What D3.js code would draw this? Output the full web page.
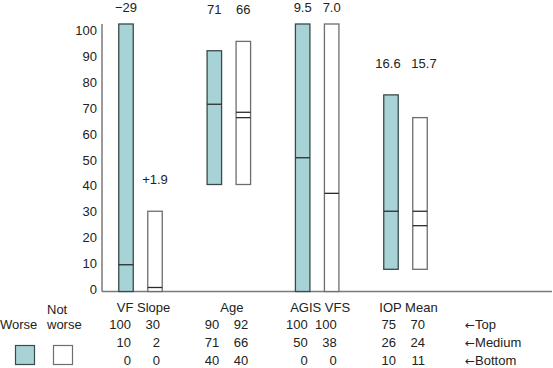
<!DOCTYPE html>
<html>
<head>
<meta charset="utf-8">
<script src="https://d3js.org/d3.v7.min.js"></script>
<style>
  body { margin: 0; background: #fff; }
  svg { display: block; font-family: 'Liberation Sans', Arial, sans-serif; }
</style>
</head>
<body>
<svg id="chart"></svg>
<script>
var width = 553;
var height = 368;

// categories
var groups = ['VF Slope', 'Age', 'AGIS VFS', 'IOP Mean'];
var statuses = ['Worse', 'Not worse'];
var yTicks = [0, 10, 20, 30, 40, 50, 60, 70, 80, 90, 100];

// values printed above the bars
var worseLabels = ['\u221229', '71', '9.5', '16.6'];
var notWorseLabels = ['+1.9', '66', '7.0', '15.7'];

// bars as drawn
var worseTop = [100, 90, 100, 73.5];
var worseMid = [10, 70, 50, 30];
var worseBottom = [0, 40, 0, 8.3];
var notWorseTop = [30, 93.5, 100, 65];
var notWorseMid = [1.5, 65, 36.7, 24.6];
var notWorseExtra = [null, 67, null, 30];
var notWorseBottom = [0, 40, 0, 8.3];

// table under the chart
var worseTableTop = [100, 90, 100, 75];
var worseTableMedium = [10, 71, 50, 26];
var worseTableBottom = [0, 40, 0, 10];
var notWorseTableTop = [30, 92, 100, 70];
var notWorseTableMedium = [2, 66, 38, 24];
var notWorseTableBottom = [0, 40, 0, 11];
var rowNames = ['Top', 'Medium', 'Bottom'];

var teal = '#a8d3d6';

var bars = [];
groups.forEach(function(g, i) {
  bars.push({ group: g, status: 'Worse', top: worseTop[i], mid: worseMid[i], extra: null,
    bottom: worseBottom[i], label: worseLabels[i],
    table: [worseTableTop[i], worseTableMedium[i], worseTableBottom[i]],
    pairTop: Math.max(worseTop[i], notWorseTop[i]), other: notWorseTop[i] });
  bars.push({ group: g, status: 'Not worse', top: notWorseTop[i], mid: notWorseMid[i], extra: notWorseExtra[i],
    bottom: notWorseBottom[i], label: notWorseLabels[i],
    table: [notWorseTableTop[i], notWorseTableMedium[i], notWorseTableBottom[i]],
    pairTop: Math.max(worseTop[i], notWorseTop[i]), other: worseTop[i] });
});

var svg = d3.select('#chart')
  .attr('width', width)
  .attr('height', height);

var xGroup = d3.scalePoint()
  .domain(groups)
  .range([140.5, 405.5]);

var xInner = d3.scalePoint()
  .domain(statuses)
  .range([-14.5, 14.5]);

var yScale = d3.scaleLinear()
  .domain([0, 100])
  .range([291.5, 24]);

// tick labels sit on a slightly shorter scale in the original
var yLabelScale = d3.scaleLinear()
  .domain([0, 100])
  .range([293.5, 34.5]);

var barWidth = 14.5;
var cx = d => xGroup(d.group) + xInner(d.status);

// y axis labels
svg.append('g')
  .attr('transform', 'translate(102,0)')
  .call(d3.axisLeft(yLabelScale).tickValues(yTicks).tickSize(0).tickPadding(5))
  .call(g => g.select('.domain').remove())
  .selectAll('text')
  .attr('dy', 0)
  .style('font-size', '13px')
  .style('font-family', "'Liberation Sans', Arial, sans-serif")
  .attr('fill', '#222');

// axis lines
svg.append('line')
  .attr('x1', 102).attr('x2', 102)
  .attr('y1', yScale(100)).attr('y2', yScale(0))
  .attr('stroke', '#7a7a7a')
  .attr('stroke-width', 1.5);

svg.append('line')
  .attr('x1', 102).attr('x2', 552)
  .attr('y1', yScale(0)).attr('y2', yScale(0))
  .attr('stroke', '#7a7a7a')
  .attr('stroke-width', 1.5);

// bars
var bar = svg.selectAll('g.bar')
  .data(bars)
  .enter()
  .append('g')
  .classed('bar', true);

bar.append('rect')
  .attr('x', d => cx(d) - barWidth / 2)
  .attr('y', d => yScale(d.top))
  .attr('width', barWidth)
  .attr('height', d => yScale(d.bottom) - yScale(d.top))
  .attr('fill', d => d.status === 'Worse' ? teal : '#fff')
  .attr('stroke', d => d.status === 'Worse' ? '#3a4a4c' : '#6e6e6e')
  .attr('stroke-width', 1.3);

bar.append('line')
  .attr('x1', d => cx(d) - barWidth / 2)
  .attr('x2', d => cx(d) + barWidth / 2)
  .attr('y1', d => yScale(d.mid))
  .attr('y2', d => yScale(d.mid))
  .attr('stroke', '#2c2c2c')
  .attr('stroke-width', 1.3);

bar.filter(d => d.extra !== null)
  .append('line')
  .attr('x1', d => cx(d) - barWidth / 2)
  .attr('x2', d => cx(d) + barWidth / 2)
  .attr('y1', d => yScale(d.extra))
  .attr('y2', d => yScale(d.extra))
  .attr('stroke', '#2c2c2c')
  .attr('stroke-width', 1.3);

// value labels above bars: shared row when the pair is similar in height
bar.append('text')
  .attr('x', d => cx(d) + (d.group === 'IOP Mean' ? (d.status === 'Worse' ? -3 : 4) : 0))
  .attr('y', d => {
    var t = Math.abs(d.top - d.other) < 20 ? d.pairTop : d.top;
    return Math.max(12, yScale(t) - 27);
  })
  .attr('text-anchor', 'middle')
  .style('font-size', '13px')
  .attr('fill', '#222')
  .text(d => d.label);

// category names
svg.selectAll('text.cat')
  .data(groups)
  .enter()
  .append('text')
  .classed('cat', true)
  .attr('x', d => xGroup(d) + 3)
  .attr('y', 311.5)
  .attr('text-anchor', 'middle')
  .style('font-size', '13px')
  .attr('fill', '#222')
  .text(d => d);

// table numbers
var rowY = [329, 347, 364.5];

rowY.forEach(function(ry, r) {
  svg.selectAll('text.row' + r)
    .data(bars)
    .enter()
    .append('text')
    .attr('class', 'row' + r)
    .attr('x', d => cx(d) + 5)
    .attr('y', ry)
    .attr('text-anchor', 'end')
    .style('font-size', '13px')
    .attr('fill', '#222')
    .text(d => d.table[r]);

  var rn = svg.append('text')
    .attr('x', 465)
    .attr('y', ry)
    .style('font-size', '13px')
    .attr('fill', '#222');
  rn.append('tspan')
    .style('font-family', "'DejaVu Sans', sans-serif")
    .style('font-size', '12px')
    .text('\u2190');
  rn.append('tspan')
    .text(rowNames[r]);
});

// legend
svg.append('text')
  .attr('x', 0)
  .attr('y', 329)
  .style('font-size', '13px')
  .attr('fill', '#222')
  .text('Worse');

svg.append('text')
  .attr('x', 47)
  .attr('y', 313.5)
  .style('font-size', '13px')
  .attr('fill', '#222')
  .text('Not');

svg.append('text')
  .attr('x', 47)
  .attr('y', 329)
  .style('font-size', '13px')
  .attr('fill', '#222')
  .text('worse');

svg.append('rect')
  .attr('x', 15.5).attr('y', 345.5)
  .attr('width', 19).attr('height', 19)
  .attr('fill', teal)
  .attr('stroke', '#3a4a4c')
  .attr('stroke-width', 1.2);

svg.append('rect')
  .attr('x', 53.5).attr('y', 345.5)
  .attr('width', 19).attr('height', 19)
  .attr('fill', '#fff')
  .attr('stroke', '#6e6e6e')
  .attr('stroke-width', 1.2);
</script>
</body>
</html>
